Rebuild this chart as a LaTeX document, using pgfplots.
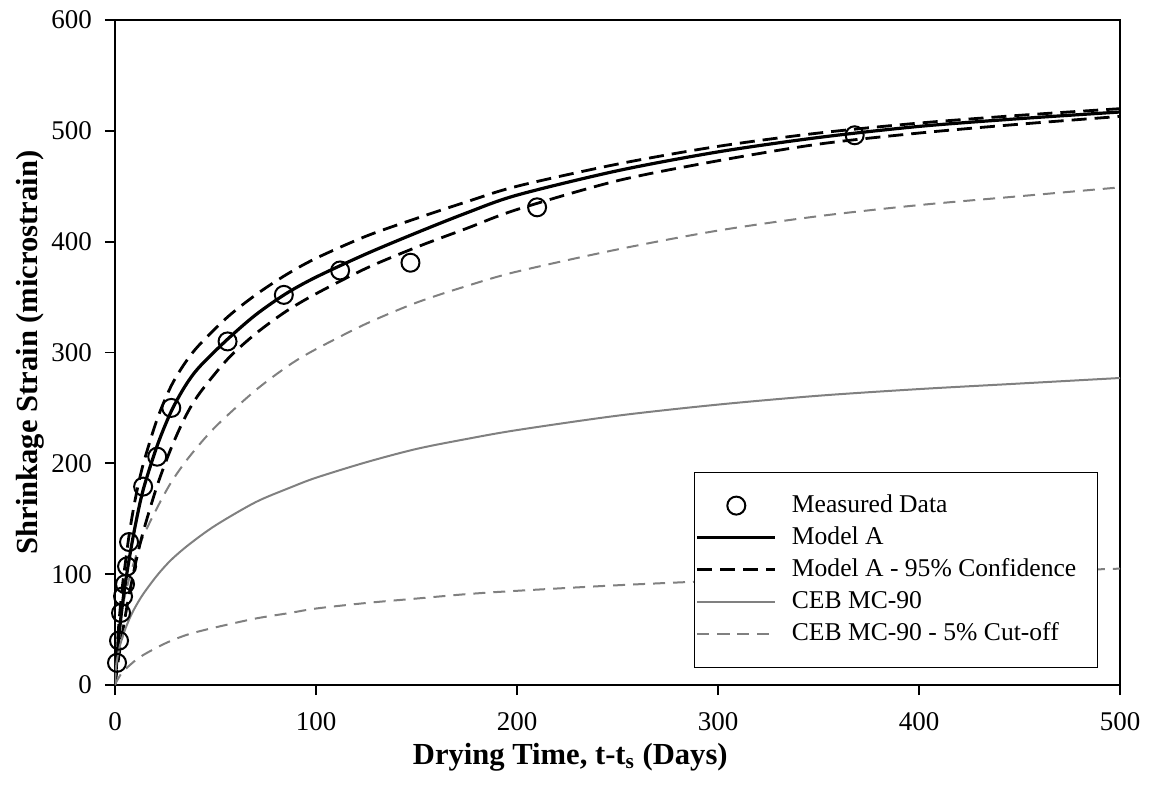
\documentclass[border=0pt]{standalone}
\usepackage{fontspec}
\setmainfont{Liberation Serif}
\usepackage{pgfplots}
\pgfplotsset{compat=1.18}
\usetikzlibrary{calc}
\begin{document}
\begin{tikzpicture}[font=\fontsize{13.5}{16}\selectfont]
\begin{axis}[
  name=main,
  scale only axis, width=502.5pt, height=332.5pt,
  xmin=0, xmax=500, ymin=0, ymax=600,
  xtick={0,100,200,300,400,500}, ytick={0,100,200,300,400,500,600},
  xtick pos=bottom, ytick pos=left,
  tick align=outside, major tick length=5pt,
  every tick/.style={black, line width=0.9pt},
  axis line style={line width=1pt},
  /pgf/number format/assume math mode=true,
  yticklabel style={xshift=-3pt},
  xticklabel style={inner ysep=0pt, yshift=-8.5pt},
  xlabel={\textbf{Drying Time, t-t\textsubscript{s} (Days)}},
  ylabel={\textbf{Shrinkage Strain (microstrain)}},
  xlabel style={at={(axis description cs:0.453,-0.1188)}, anchor=base, inner sep=0pt, font=\fontsize{15.3}{18}\selectfont},
  ylabel style={at={(axis description cs:-0.0846,0.5)}, anchor=center, font=\fontsize{15.3}{18}\selectfont},
  legend style={at={(rel axis cs:0.978,0.026)}, anchor=south east,
    draw=black, line width=0.6pt, inner xsep=0.5pt, inner ysep=8.75pt,
    font=\fontsize{12.8}{15.4}\selectfont,
    nodes={inner xsep=0pt, inner ysep=1.75pt, text height=9.5pt, text depth=3pt},
    row sep=0pt},
  legend cell align=left,
  legend image code/.code={\draw[mark repeat=2, mark phase=2, #1] plot coordinates {(0pt,0pt) (19.5pt,0pt) (39pt,0pt)};},
]
% CEB MC-90 upper (5% cut-off, upper bound)
\addplot[black!50, line width=1pt, dash pattern=on 6pt off 4pt, smooth, forget plot] coordinates {
(0,0) (0.5,26) (1,37) (2,52) (3,63) (5,81) (7.5,99) (10,114) (14,134) (21,160) (28,183) (37,206) (50,233) (70,266) (87,289) (100,303) (125,326) (150,345) (175,360) (200,373) (250,393) (300,410) (350,423) (400,433) (450,441) (500,449)};
% measured
\addplot[only marks, mark=o, mark size=4.5pt, mark options={line width=1pt, black}] coordinates {
(1,20) (2,40) (3,65) (4,80) (5,91) (6,107) (7,129) (14,179) (21,206) (28,250) (56,310) (84,352) (112,374) (147,381) (210,431) (368,496)};
\addlegendentry{\hspace{7.5pt}Measured Data}
% Model A
\addplot[black, line width=1.6pt, smooth] coordinates {
(0,0) (1,25) (2,45) (3,62) (4,77) (5,90) (7,113) (10,143) (14,176) (21,216) (28,247) (35,270) (42,287) (56,312) (70,334) (85,353) (100,368) (125,389) (150,408) (175,426) (200,442) (250,464) (300,481) (350,494) (400,504) (450,511) (500,517)};
\addlegendentry{\hspace{7.5pt}Model A}
% Model A upper 95%
\addplot[black, line width=1.4pt, dash pattern=on 7.5pt off 4pt, smooth] coordinates {
(0,0) (1,32) (2,57) (3,77) (4,94) (5,108) (7,135) (10,167) (14,199) (21,240) (28,270) (35,291) (42,307) (56,332) (70,352) (85,370) (100,385) (125,405) (150,421) (175,436) (200,450) (250,470) (300,486) (350,498) (400,507) (450,514) (500,520)};
\addlegendentry{\hspace{7.5pt}Model A - 95\% Confidence\rule{10pt}{0pt}}
% Model A lower 95%
\addplot[black, line width=1.4pt, dash pattern=on 7.5pt off 4pt, smooth, forget plot] coordinates {
(0,0) (1,14) (2,27) (3,39) (4,50) (5,61) (7,81) (10,108) (14,138) (21,180) (28,214) (35,242) (42,263) (56,294) (70,317) (85,337) (100,353) (125,376) (150,395) (175,412) (200,429) (250,455) (300,473) (350,488) (400,498) (450,506) (500,513)};
% CEB MC-90
\addplot[black!50, line width=1pt, smooth] coordinates {
(0,0) (0.5,16) (1,22.6) (2,32) (3,39) (5,50) (7.5,61) (10,70) (14,82) (21,99) (28,113) (37,127) (50,144) (70,165) (87,178) (100,187) (125,201) (150,213) (175,222) (200,230) (250,243) (300,253) (350,261) (400,267) (450,272) (500,277)};
\addlegendentry{\hspace{7.5pt}CEB MC-90}
% CEB MC-90 lower (5% cut-off)
\addplot[black!50, line width=1pt, dash pattern=on 6pt off 4pt, smooth] coordinates {
(0,0) (1,4) (2,7) (3,10) (5,14) (10,22) (14,27) (21,34) (28,40) (37,46) (50,52) (70,60) (87,65) (100,69) (125,74) (150,78) (175,82) (200,85) (250,90) (300,94) (350,97) (400,99) (450,102) (500,105)};
\addlegendentry{\hspace{7.5pt}CEB MC-90 - 5\% Cut-off}
\coordinate (ll) at (rel axis cs:0,0);
\coordinate (ur) at (rel axis cs:1,1);
\end{axis}
\pgfresetboundingbox
\path[use as bounding box] ($(ll)+(-57.5pt,-50pt)$) rectangle ($(ur)+(15.5pt,10pt)$);
\end{tikzpicture}
\end{document}
